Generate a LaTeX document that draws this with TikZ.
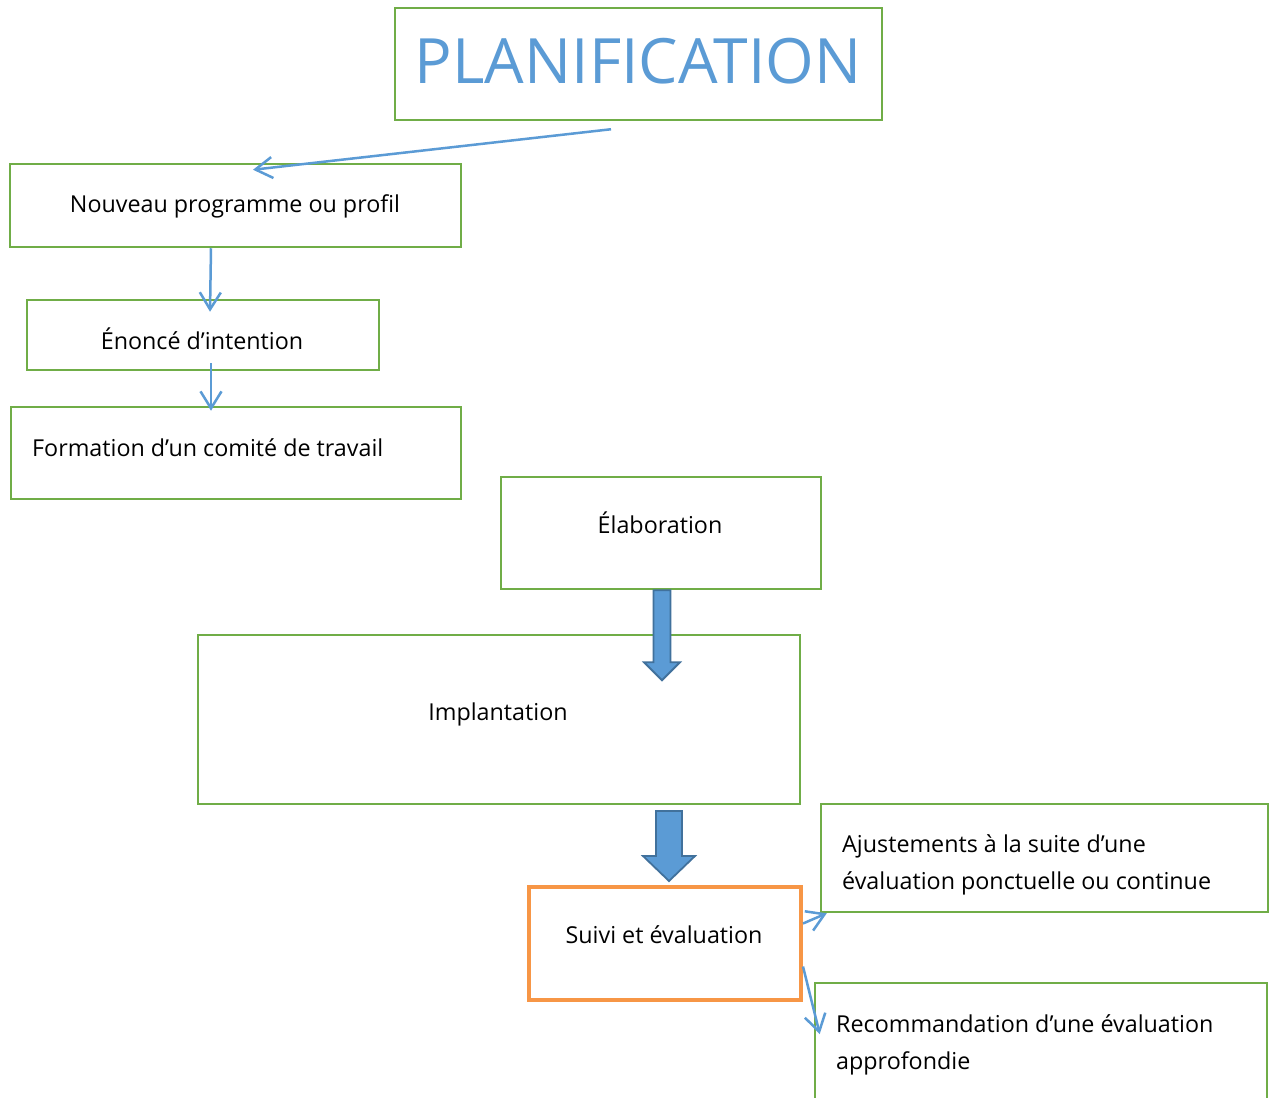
\documentclass[tikz,border=0pt]{standalone}
\usepackage{fontspec}
\setmainfont{Open Sans}
\usetikzlibrary{arrows.meta,calc}
\definecolor{grn}{RGB}{112,173,71}
\definecolor{org}{RGB}{247,150,70}
\definecolor{blu}{RGB}{91,155,213}
\definecolor{bdk}{RGB}{65,113,156}
\begin{document}
\begin{tikzpicture}[x=1pt,y=-1pt,
  box/.style={draw=grn,line width=2.5pt,inner sep=0pt},
  obox/.style={draw=org,line width=4pt,inner sep=0pt},
  lbl/.style={inner sep=0pt,anchor=base,font=\fontsize{23.3}{37}\selectfont},
  lbll/.style={inner sep=0pt,anchor=base west,font=\fontsize{23.3}{37}\selectfont},
  title/.style={inner sep=0pt,anchor=base,text=blu,font=\fontsize{62.5}{70}\selectfont},
  conn/.style={draw=blu,line width=2.5pt,-{Straight Barb[length=17pt,width=21pt,line width=2.5pt]}},
  blockarrow/.style={fill=blu,draw=bdk,line width=1.8pt,line join=miter}]
\clip (0,0) rectangle (1276,1097);
\useasboundingbox (0,0) rectangle (1276,1097);
\fill[white] (0,0) rectangle (1276,1097);

% boxes
\node[box,minimum width=487pt,minimum height=112pt] (plan) at (638.5,64) {};
\node[box,minimum width=451pt,minimum height=83pt] (nouv) at (235.5,205.5) {};
\node[box,minimum width=352pt,minimum height=70pt] (enon) at (203,335) {};
\node[box,minimum width=450pt,minimum height=92pt] (form) at (236,453) {};
\node[box,minimum width=320pt,minimum height=112pt] (elab) at (661,533) {};
\node[box,minimum width=602pt,minimum height=169pt] (impl) at (499,719.5) {};
\node[obox,minimum width=272pt,minimum height=113pt] (suivi) at (665,943.5) {};
\node[box,minimum width=447pt,minimum height=108pt] (ajus) at (1044.5,858) {};
\node[box,minimum width=452pt,minimum height=160pt] (reco) at (1041,1063) {};

% texts
\node[title] (tplan) at (638,83.5) {PLANIFICATION};
\node[lbl] (tnouv) at (235,212) {Nouveau programme ou profil};
\node[lbl] (tenon) at (202,349) {Énoncé d’intention};
\node[lbll] (tform) at (32,456) {Formation d’un comité de travail};
\node[lbl] (telab) at (660,533) {Élaboration};
\node[lbl] (timpl) at (498,720) {Implantation};
\node[lbl] (tsuivi) at (664,943) {Suivi et évaluation};
\node[lbll] (tajus1) at (842,852) {Ajustements à la suite d’une};
\node[lbll] (tajus2) at (842,889) {évaluation ponctuelle ou continue};
\node[lbll] (treco1) at (836,1032) {Recommandation d’une évaluation};
\node[lbll] (treco2) at (836,1069) {approfondie};

% thin connectors
\coordinate (a1s) at ($(plan.south)+(-27.5,8)$);
\coordinate (a1e) at ($(nouv.north)+(17.5,7)$);
\draw[conn] (a1s) -- (a1e);
\coordinate (a2s) at ($(nouv.south)+(-24.5,0)$);
\coordinate (a2e) at ($(enon.north)+(7,13)$);
\draw[conn] (a2s) -- (a2e);
\coordinate (a3s) at ($(enon.south)+(8,-8)$);
\coordinate (a3e) at ($(form.north)+(-25,5)$);
\draw[conn] (a3s) -- (a3e);
\coordinate (a4s) at ($(suivi.east)+(0,-20)$);
\coordinate (a4e) at ($(ajus.south west)+(7,0)$);
\draw[conn] (a4s) -- (a4e);
\coordinate (a5s) at ($(suivi.east)+(0,23)$);
\coordinate (a5e) at ($(reco.west)+(6,-29)$);
\draw[conn] (a5s) -- (a5e);

% block arrows
\coordinate (b1) at ($(elab.south)+(1,90)$);
\draw[blockarrow] (b1) -- ++(18,-18) -- ++(-9.5,0) -- ++(0,-72) -- ++(-17,0) -- ++(0,72) -- ++(-9.5,0) -- cycle;
\coordinate (b2) at ($(suivi.north)+(4,-4)$);
\draw[blockarrow] (b2) -- ++(26,-25) -- ++(-13,0) -- ++(0,-45) -- ++(-26,0) -- ++(0,45) -- ++(-13,0) -- cycle;
\end{tikzpicture}
\end{document}
